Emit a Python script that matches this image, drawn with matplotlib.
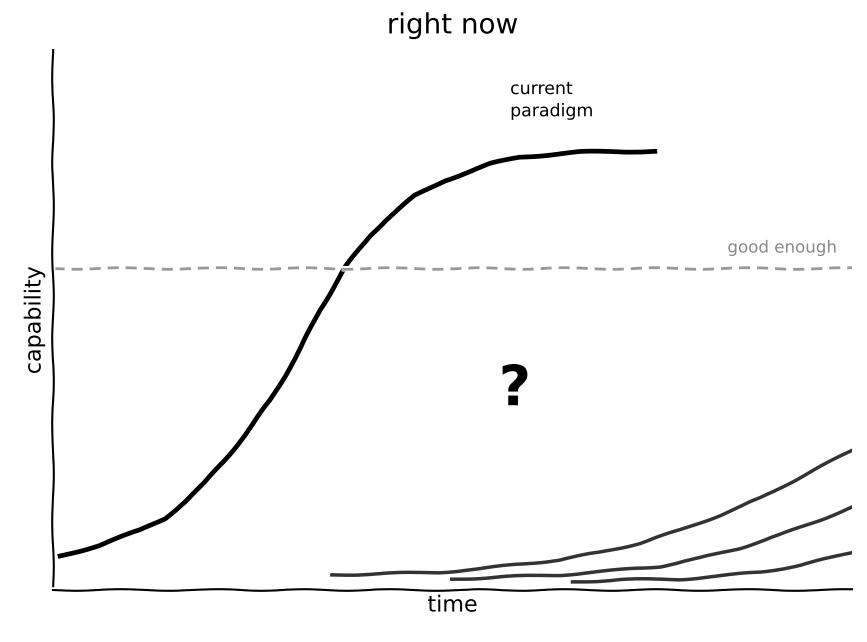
import matplotlib
matplotlib.use("Agg")
import matplotlib.pyplot as plt

# current paradigm (s-curve)
cur_x = [0.09, 0.59, 1.09, 1.40, 1.65, 1.90, 2.15, 2.47, 2.72, 3.09, 3.34, 3.65, 3.97, 4.16,
         4.53, 4.91, 5.47, 5.84, 6.60, 7.53]
cur_y = [0.63, 0.83, 1.11, 1.33, 1.63, 1.98, 2.41, 3.00, 3.52, 4.44, 5.19, 5.96, 6.57, 6.85,
         7.30, 7.59, 7.89, 8.02, 8.11, 8.13]

# new approaches at the bottom
a_x = [3.49, 4.09, 4.84, 5.34, 5.97, 6.35, 6.85, 7.35, 7.85, 8.35, 8.85, 9.35, 9.72, 10.0]
a_y = [0.28, 0.30, 0.33, 0.39, 0.50, 0.56, 0.70, 0.87, 1.11, 1.39, 1.70, 2.09, 2.37, 2.59]
b_x = [4.99, 5.59, 6.35, 7.10, 7.60, 8.10, 8.60, 9.10, 9.60, 10.0]
b_y = [0.20, 0.24, 0.28, 0.37, 0.44, 0.59, 0.78, 1.02, 1.30, 1.54]
c_x = [6.50, 7.10, 7.85, 8.35, 8.85, 9.35, 9.72, 10.0]
c_y = [0.15, 0.19, 0.20, 0.26, 0.33, 0.46, 0.59, 0.70]

good_enough = 5.96

with plt.xkcd(scale=0.8):
    plt.rcParams['font.family'] = ['DejaVu Sans']
    fig = plt.figure(figsize=(8.67, 6.42), dpi=100)
    ax = fig.add_axes([0.061, 0.081, 0.922, 0.841])

    ax.plot(cur_x, cur_y, color='black', lw=3.4)
    ax.plot(a_x, a_y, color='#333333', lw=2.5)
    ax.plot(b_x, b_y, color='#333333', lw=2.5)
    ax.plot(c_x, c_y, color='#333333', lw=2.5)
    ax.axhline(good_enough, color='#999999', lw=2, ls=(0, (4, 2.5)))

    ax.text(9.8, 6.25, 'good enough', color='#888888', fontsize=12, ha='right')
    ax.text(5.72, 8.7, 'current\nparadigm', fontsize=12.5, ha='left', va='bottom', linespacing=1.3)
    ax.text(5.78, 3.7, '?', fontsize=40, fontweight='bold', ha='center', va='center')

    ax.set_xlim(0, 10)
    ax.set_ylim(0, 10)
    ax.spines['top'].set_visible(False)
    ax.spines['right'].set_visible(False)
    ax.set_xticks([])
    ax.set_yticks([])
    ax.set_title('right now', fontsize=20, pad=12)
    ax.set_xlabel('time', fontsize=16, labelpad=4)
    ax.set_ylabel('capability', fontsize=16, labelpad=6)

    fig.savefig('out.png', dpi=100)
